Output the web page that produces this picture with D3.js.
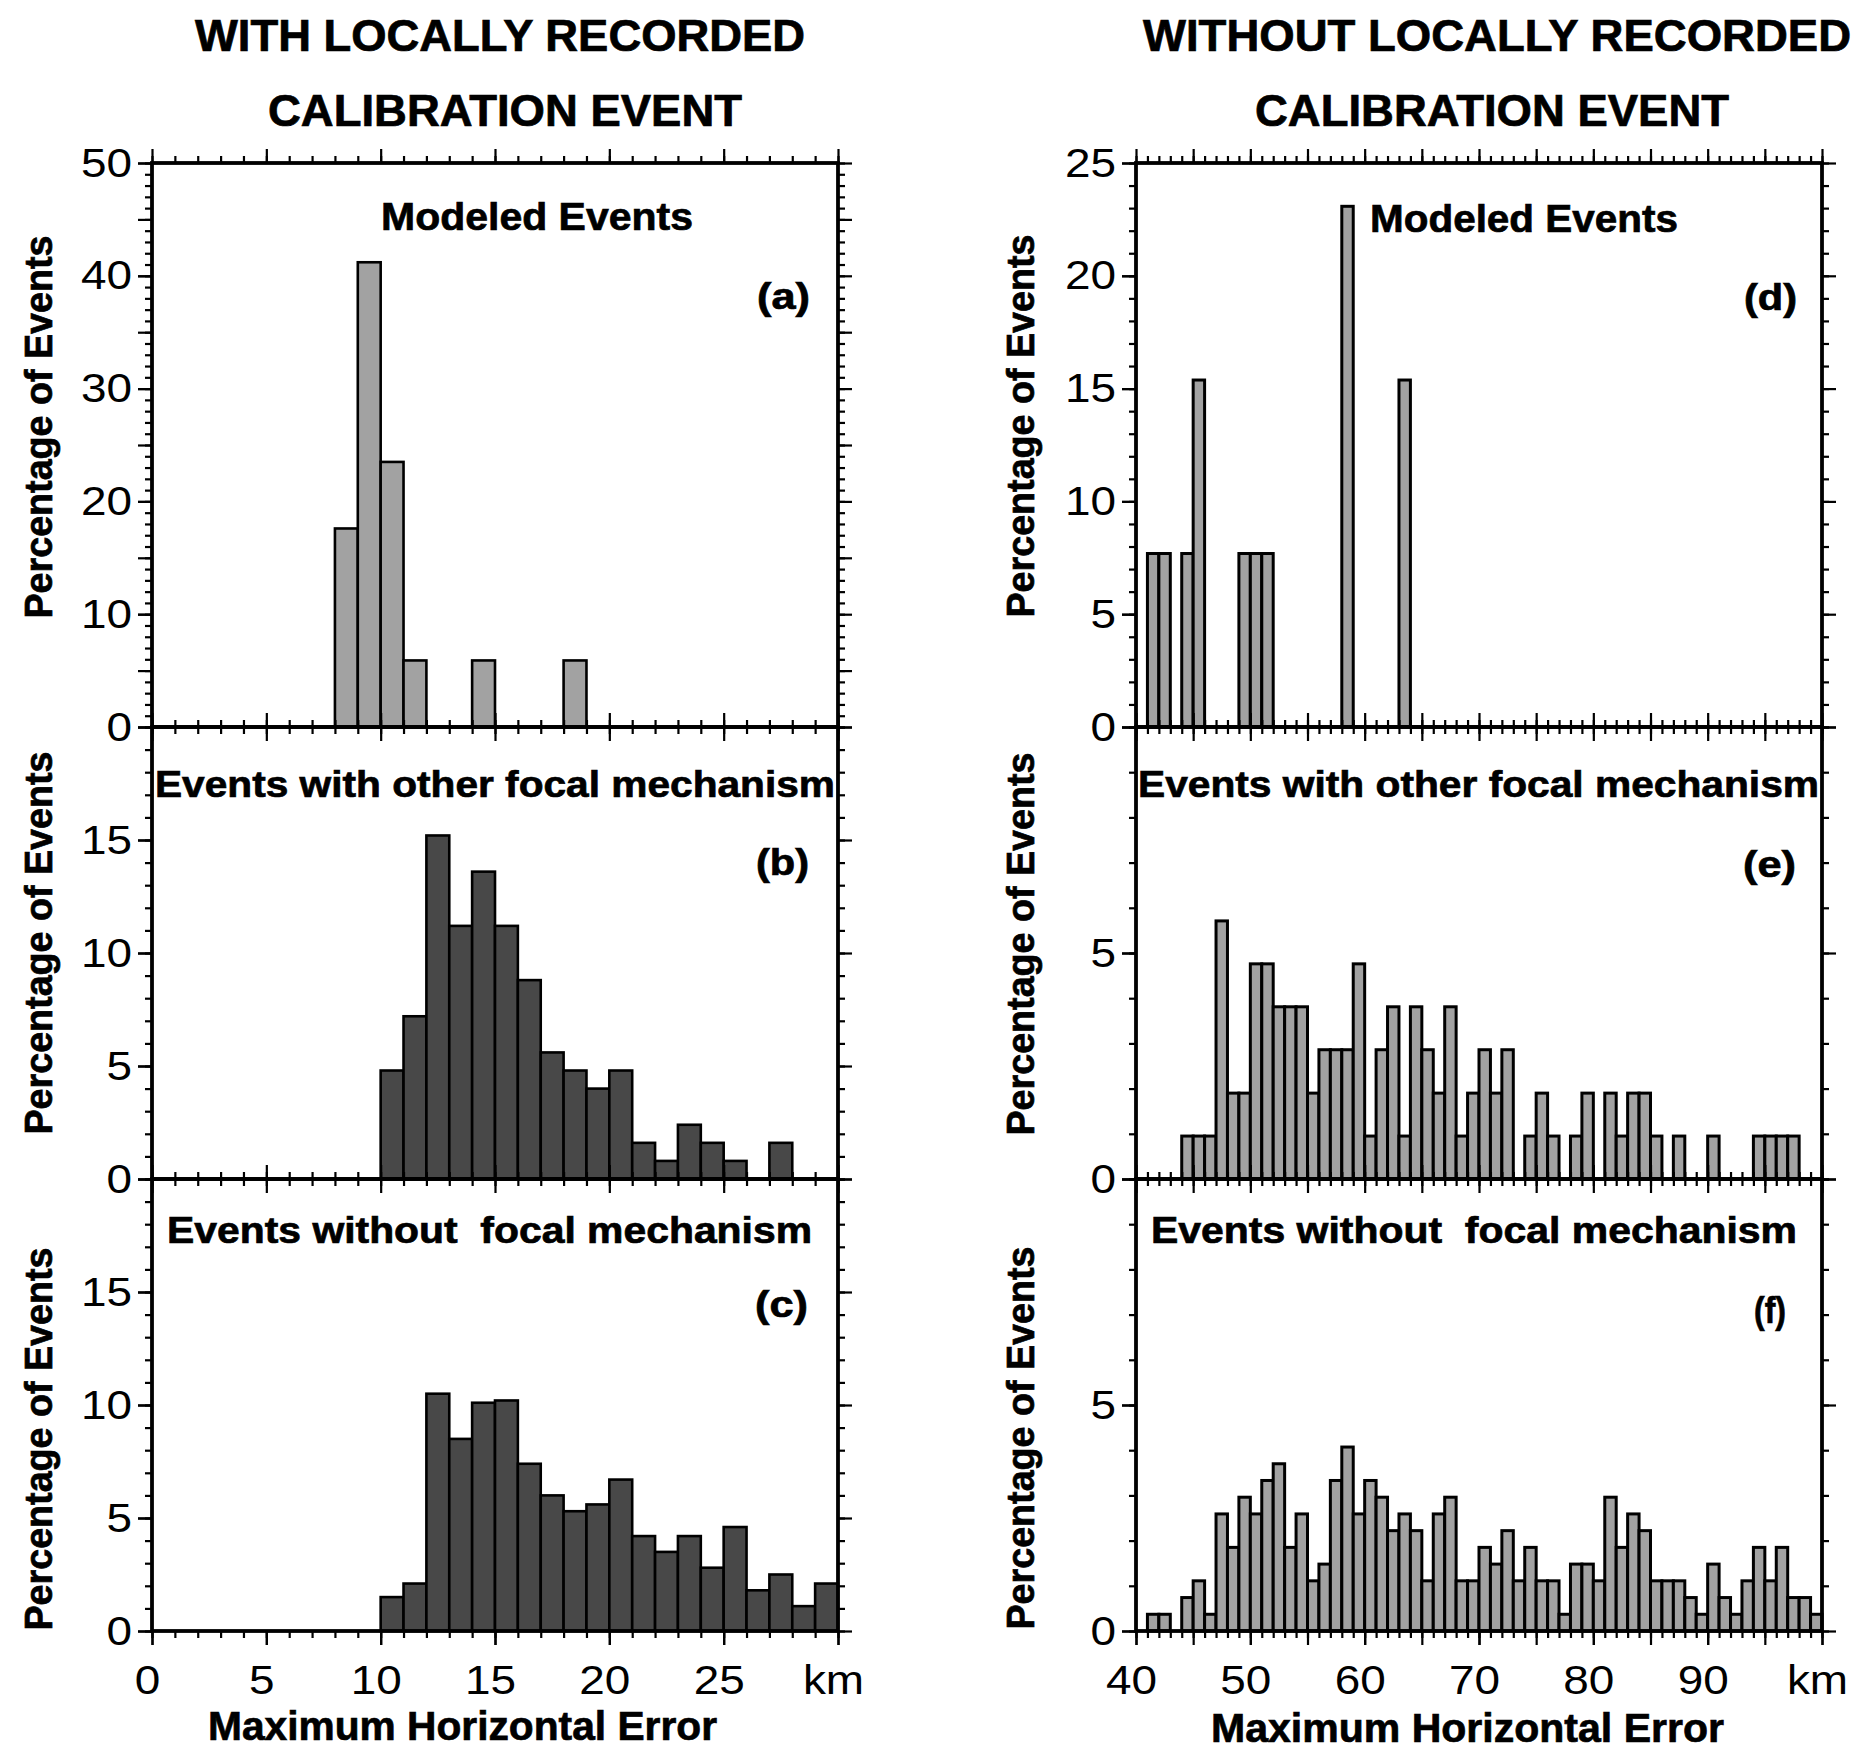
<!DOCTYPE html>
<html>
<head>
<meta charset="utf-8">
<script src="https://cdn.jsdelivr.net/npm/d3@7"></script>
<style>
  body { margin: 0; background: #fff; }
  svg { display: block; }
  text { white-space: pre; }
</style>
</head>
<body>
<svg id="fig" width="1862" height="1753"></svg>
<script>
// ---- Histogram data: left edge of each 1-km bin and percentage of events ----
// With locally recorded calibration event
const binsA = [8, 9, 10, 11, 12, 13, 14, 15, 16, 17, 18];
const pctA  = [17.6, 41.2, 23.5, 5.9, 0, 0, 5.9, 0, 0, 0, 5.9];

const binsB = [10, 11, 12, 13, 14, 15, 16, 17, 18, 19, 20, 21, 22, 23, 24, 25, 26, 27];
const pctB  = [4.8, 7.2, 15.2, 11.2, 13.6, 11.2, 8.8, 5.6, 4.8, 4.0, 4.8, 1.6, 0.8, 2.4, 1.6, 0.8, 0, 1.6];

const binsC = [10, 11, 12, 13, 14, 15, 16, 17, 18, 19, 20, 21, 22, 23, 24, 25, 26, 27, 28, 29];
const pctC  = [1.5, 2.1, 10.5, 8.5, 10.1, 10.2, 7.4, 6.0, 5.3, 5.6, 6.7, 4.2, 3.5, 4.2, 2.8, 4.6, 1.8, 2.5, 1.1, 2.1];

// Without locally recorded calibration event
const binsD = [41, 42, 43, 44, 45, 46, 47, 48, 49, 50, 51, 52, 53, 54, 55, 56, 57, 58, 59, 60, 61, 62, 63];
const pctD  = [7.69, 7.69, 0, 7.69, 15.38, 0, 0, 0, 7.69, 7.69, 7.69, 0, 0, 0, 0, 0, 0, 23.08, 0, 0, 0, 0, 15.38];

const binsE = [44, 45, 46, 47, 48, 49, 50, 51, 52, 53, 54, 55, 56, 57, 58, 59, 60, 61, 62, 63,
               64, 65, 66, 67, 68, 69, 70, 71, 72, 73, 74, 75, 76, 77, 78, 79, 80, 81, 82, 83,
               84, 85, 86, 87, 88, 89, 90, 91, 92, 93, 94, 95, 96, 97];
const pctE  = [0.95, 0.95, 0.95, 5.71, 1.90, 1.90, 4.76, 4.76, 3.81, 3.81, 3.81, 1.90, 2.86, 2.86, 2.86, 4.76, 0.95, 2.86, 3.81, 0.95,
               3.81, 2.86, 1.90, 3.81, 0.95, 1.90, 2.86, 1.90, 2.86, 0, 0.95, 1.90, 0.95, 0, 0.95, 1.90, 0, 1.90, 0.95, 1.90,
               1.90, 0.95, 0, 0.95, 0, 0, 0.95, 0, 0, 0, 0.95, 0.95, 0.95, 0.95];

const binsF = [41, 42, 43, 44, 45, 46, 47, 48, 49, 50, 51, 52, 53, 54, 55, 56, 57, 58, 59, 60,
               61, 62, 63, 64, 65, 66, 67, 68, 69, 70, 71, 72, 73, 74, 75, 76, 77, 78, 79, 80,
               81, 82, 83, 84, 85, 86, 87, 88, 89, 90, 91, 92, 93, 94, 95, 96, 97, 98, 99];
const pctF  = [0.37, 0.37, 0, 0.74, 1.11, 0.37, 2.59, 1.85, 2.96, 2.59, 3.33, 3.70, 1.85, 2.59, 1.11, 1.48, 3.33, 4.07, 2.59, 3.33,
               2.96, 2.22, 2.59, 2.22, 1.11, 2.59, 2.96, 1.11, 1.11, 1.85, 1.48, 2.22, 1.11, 1.85, 1.11, 1.11, 0.37, 1.48, 1.48, 1.11,
               2.96, 1.85, 2.59, 2.22, 1.11, 1.11, 1.11, 0.74, 0.37, 1.48, 0.74, 0.37, 1.11, 1.85, 1.11, 1.85, 0.74, 0.74, 0.37];

// ---- Axis tick labels ----
const xLabelsLeft  = [0, 5, 10, 15, 20, 25, 30];
const xLabelsRight = [40, 50, 60, 70, 80, 90, 100];
const yLabelsA = [0, 10, 20, 30, 40, 50];
const yLabelsBC = [0, 5, 10, 15];
const yLabelsD = [0, 5, 10, 15, 20, 25];
const yLabelsEF = [0, 5];

// ---- Text ----
const headLeft  = ["WITH LOCALLY RECORDED", "CALIBRATION EVENT"];
const headRight = ["WITHOUT LOCALLY RECORDED", "CALIBRATION EVENT"];
const panelTitles = ["Modeled Events", "Events with other focal mechanism", "Events without  focal mechanism"];
const panelTags = ["(a)", "(b)", "(c)", "(d)", "(e)", "(f)"];
const yTitle = "Percentage of Events";
const xTitle = "Maximum Horizontal Error";
const unitLabel = "km";

// ---- Layout ----
const FONT = '"Liberation Sans", Arial, Helvetica, sans-serif';
const svg = d3.select("#fig");
const COL = { left: [152, 838], right: [1136, 1822] };
const ROW = [[163, 727], [727, 1179], [1179, 1631]];
const MAJOR = 14, MINOR = 7, DIGIT_STRETCH = 1.12, DIGIT_SIZE = 41;

function txt(str, x, y, size, weight, anchor, len) {
  const t = svg.append("text")
    .attr("x", x).attr("y", y)
    .attr("font-family", FONT).attr("font-size", size)
    .attr("font-weight", weight).attr("text-anchor", anchor)
    .attr("fill", "#000").text(str);
  if (weight === "bold") t.attr("stroke", "#000").attr("stroke-width", 0.7);
  if (len) t.attr("textLength", len).attr("lengthAdjust", "spacingAndGlyphs");
  return t;
}

function stretchLabels(sel, shiftX) {
  // Tick numerals are printed wide: move each label into a transform and widen it
  sel.selectAll(".tick text").each(function () {
    const t = d3.select(this);
    const tx = (+t.attr("x") || 0) + (shiftX || 0), ty = +t.attr("y") || 0;
    t.attr("x", 0).attr("y", 0)
     .attr("transform", `translate(${tx},${ty}) scale(${DIGIT_STRETCH},1)`)
     .attr("font-family", FONT).attr("font-size", DIGIT_SIZE).attr("fill", "#000");
  });
}

function panel(p) {
  const [x0, x1] = p.col, [y0, y1] = p.row;
  const x = d3.scaleLinear().domain(p.xDomain).range([x0, x1]);
  const y = d3.scaleLinear().domain(p.yDomain).range([y1, y0]);
  const g = svg.append("g");

  // bars, one per 1-km bin
  const data = p.bins.map((b, i) => ({ b, v: p.values[i] })).filter(d => d.v > 0);
  g.append("g").selectAll("rect").data(data).join("rect")
    .attr("x", d => x(d.b))
    .attr("y", d => y(d.v))
    .attr("width", d => x(d.b + 1) - x(d.b))
    .attr("height", d => y(0) - y(d.v))
    .attr("fill", p.fill)
    .attr("stroke", "#000")
    .attr("stroke-width", p.barStroke || 2.6);

  // frame
  g.append("rect").attr("x", x0).attr("y", y0)
    .attr("width", x1 - x0).attr("height", y1 - y0)
    .attr("fill", "none").attr("stroke", "#000").attr("stroke-width", 3.8);

  const xMinor = d3.range(p.xDomain[0], p.xDomain[1] + 0.001, 1);
  const xMajor = d3.range(p.xDomain[0], p.xDomain[1] + 0.001, 5);
  const yMinor = d3.range(p.yDomain[0], p.yDomain[1] + 0.001, 1);
  const yMajor = d3.range(p.yDomain[0], p.yDomain[1] + 0.001, 5);

  const put = (tx, ty, axis) => {
    const a = g.append("g").attr("transform", `translate(${tx},${ty})`).call(axis);
    a.select(".domain").remove();
    a.selectAll(".tick line").attr("stroke", "#000").attr("stroke-width", 2.2);
    return a;
  };

  // outward ticks on all four sides
  put(0, y0, d3.axisTop(x).tickValues(xMinor).tickSize(MINOR).tickSizeOuter(0).tickFormat(""));
  put(0, y0, d3.axisTop(x).tickValues(xMajor).tickSize(MAJOR).tickSizeOuter(0).tickFormat(""));
  put(0, y1, d3.axisBottom(x).tickValues(xMinor).tickSize(MINOR).tickSizeOuter(0).tickFormat(""));
  put(x1, 0, d3.axisRight(y).tickValues(yMinor).tickSize(MINOR).tickSizeOuter(0).tickFormat(""));
  put(x1, 0, d3.axisRight(y).tickValues(yMajor).tickSize(MAJOR).tickSizeOuter(0).tickFormat(""));
  put(x0, 0, d3.axisLeft(y).tickValues(yMinor).tickSize(MINOR).tickSizeOuter(0).tickFormat(""));
  put(x0, 0, d3.axisLeft(y).tickValues(yMajor).tickSize(MAJOR).tickSizeOuter(0).tickFormat(""));

  // labelled left axis
  const yl = put(x0, 0, d3.axisLeft(y).tickValues(p.yLabels).tickSize(MAJOR).tickSizeOuter(0).tickPadding(6));
  stretchLabels(yl, 0);

  // bottom axis (labelled only on the lowest row)
  const xb = put(0, y1, d3.axisBottom(x).tickValues(p.showX ? p.xLabels : xMajor)
    .tickSize(MAJOR).tickSizeOuter(0).tickPadding(20)
    .tickFormat(p.showX ? (d => d === p.xDomain[1] ? unitLabel : d) : ""));
  if (p.showX) {
    stretchLabels(xb, -5);
    // major ticks at the half-decade marks
    put(0, y1, d3.axisBottom(x).tickValues(xMajor).tickSize(MAJOR).tickSizeOuter(0).tickFormat(""));
  }
  return { x, y };
}

const fillLight = "#a2a2a2";
const fillDark = "#484848";

const leftX = { xDomain: [0, 30], xLabels: xLabelsLeft };
const rightX = { xDomain: [40, 100], xLabels: xLabelsRight };

panel({ ...leftX, col: COL.left, row: ROW[0], yDomain: [0, 50], yLabels: yLabelsA, bins: binsA, values: pctA, fill: fillLight });
panel({ ...leftX, col: COL.left, row: ROW[1], yDomain: [0, 20], yLabels: yLabelsBC, bins: binsB, values: pctB, fill: fillDark });
panel({ ...leftX, col: COL.left, row: ROW[2], yDomain: [0, 20], yLabels: yLabelsBC, bins: binsC, values: pctC, fill: fillDark, showX: true });
panel({ ...rightX, col: COL.right, row: ROW[0], yDomain: [0, 25], yLabels: yLabelsD, bins: binsD, values: pctD, fill: fillLight, barStroke: 3 });
panel({ ...rightX, col: COL.right, row: ROW[1], yDomain: [0, 10], yLabels: yLabelsEF, bins: binsE, values: pctE, fill: fillLight, barStroke: 3 });
panel({ ...rightX, col: COL.right, row: ROW[2], yDomain: [0, 10], yLabels: yLabelsEF, bins: binsF, values: pctF, fill: fillLight, barStroke: 3, showX: true });

// column headings
txt(headLeft[0], 500, 51, 44, "bold", "middle", 610);
txt(headLeft[1], 505, 126, 44, "bold", "middle", 474);
txt(headRight[0], 1497, 51, 44, "bold", "middle", 708);
txt(headRight[1], 1492, 126, 44, "bold", "middle", 474);

// panel titles
txt(panelTitles[0], 381, 230, 39, "bold", "start", 312);
txt(panelTitles[1], 155, 797, 37, "bold", "start", 680);
txt(panelTitles[2], 167, 1243, 37, "bold", "start", 645);
txt(panelTitles[0], 1370, 232, 39, "bold", "start", 308);
txt(panelTitles[1], 1138, 797, 37, "bold", "start", 681);
txt(panelTitles[2], 1151, 1243, 37, "bold", "start", 646);

// panel tags
txt(panelTags[0], 757, 309, 36, "bold", "start", 53);
txt(panelTags[1], 756, 875, 36, "bold", "start", 53);
txt(panelTags[2], 755, 1317, 36, "bold", "start", 53);
txt(panelTags[3], 1744, 310, 36, "bold", "start", 53);
txt(panelTags[4], 1743, 877, 36, "bold", "start", 53);
txt(panelTags[5], 1754, 1323, 36, "bold", "start", 32);

// y-axis titles
const yTitlePos = [[38, 427], [38, 943], [38, 1439], [1020, 426], [1020, 944], [1020, 1438]];
yTitlePos.forEach(([cx, cy]) => {
  svg.append("text")
    .attr("transform", `translate(${cx},${cy}) rotate(-90)`)
    .attr("text-anchor", "middle").attr("dy", "0.36em")
    .attr("font-family", FONT).attr("font-size", 38).attr("font-weight", "bold")
    .attr("stroke", "#000").attr("stroke-width", 0.7)
    .attr("textLength", 383).attr("lengthAdjust", "spacingAndGlyphs")
    .text(yTitle);
});

// x-axis titles
txt(xTitle, 208, 1740, 41, "bold", "start", 509);
txt(xTitle, 1211, 1742, 41, "bold", "start", 513);
</script>
</body>
</html>
